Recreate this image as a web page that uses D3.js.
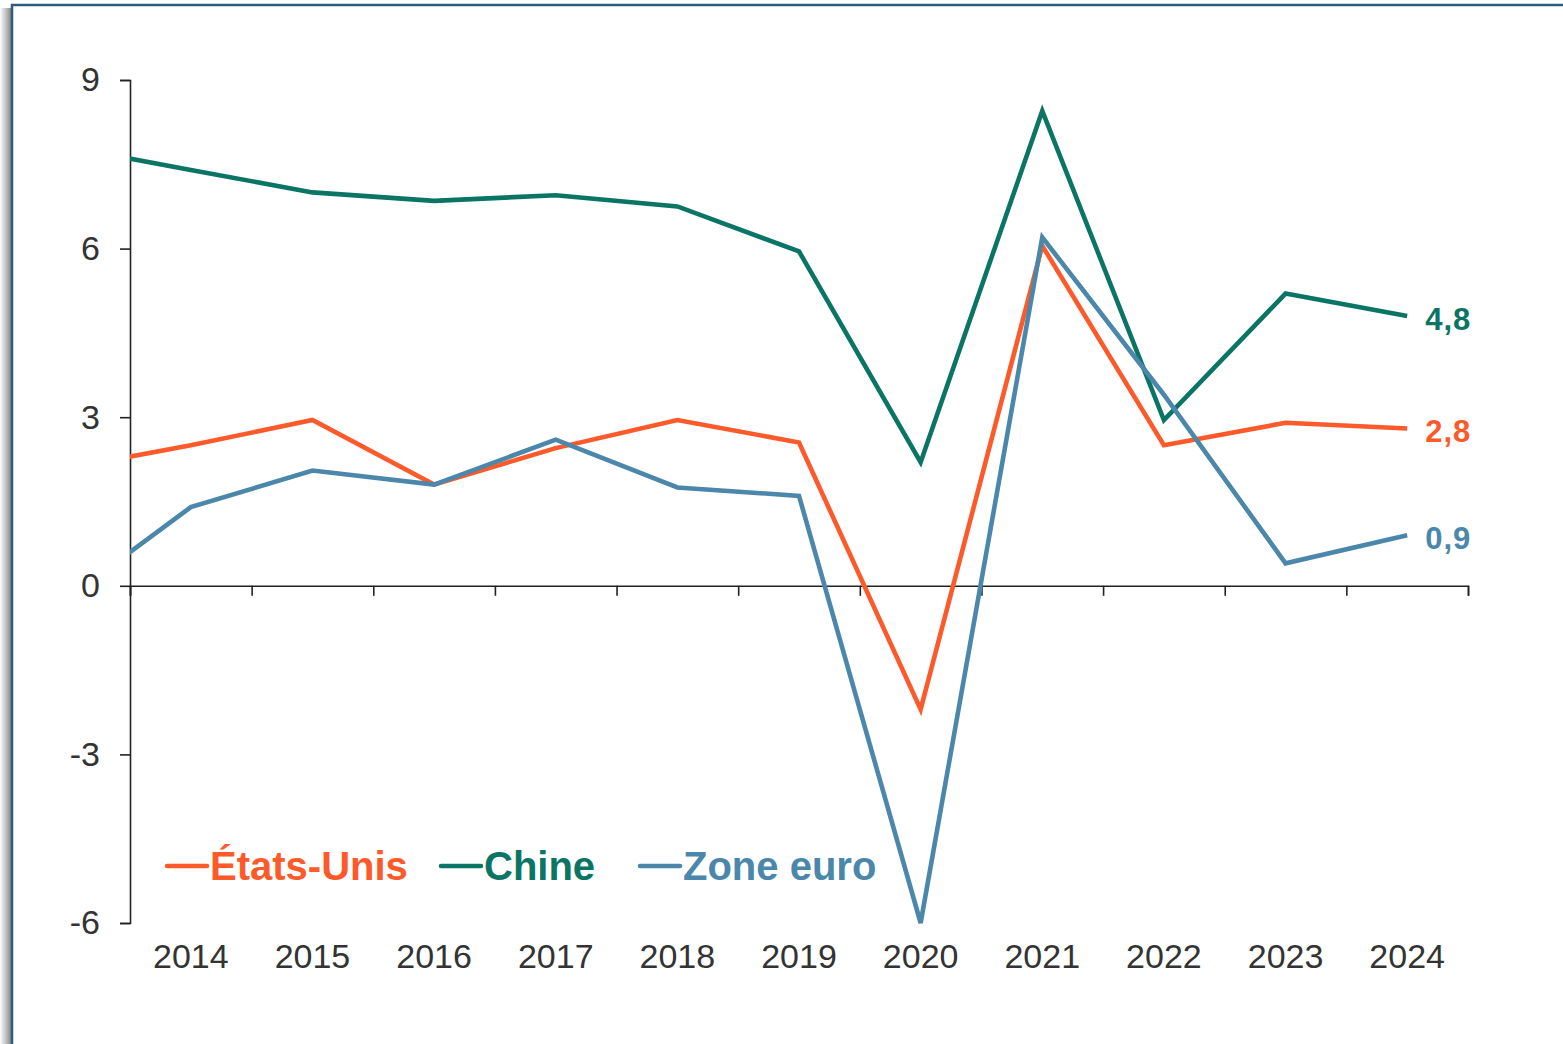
<!DOCTYPE html>
<html>
<head>
<meta charset="utf-8">
<script src="https://cdn.jsdelivr.net/npm/d3@7"></script>
<style>
  html, body { margin: 0; padding: 0; background: #fff; }
  svg { display: block; font-family: "Liberation Sans", Arial, sans-serif; }
</style>
</head>
<body>
<script>
// years (2013 is only there so the line enters the plot from the left edge, it gets clipped)
var years = [2013, 2014, 2015, 2016, 2017, 2018, 2019, 2020, 2021, 2022, 2023, 2024]
var shownYears = [2014, 2015, 2016, 2017, 2018, 2019, 2020, 2021, 2022, 2023, 2024]
var usValues   = [2.1, 2.5, 2.95, 1.8, 2.45, 2.95, 2.55, -2.2, 6.05, 2.5, 2.9, 2.8]
var chinaValues = [7.8, 7.4, 7.0, 6.85, 6.95, 6.75, 5.95, 2.2, 8.45, 2.95, 5.2, 4.8]
var euroValues = [-0.2, 1.4, 2.05, 1.8, 2.6, 1.75, 1.6, -6.0, 6.2, 3.4, 0.4, 0.9]
var yTicks = [-6, -3, 0, 3, 6, 9]
var seriesNames = ["États-Unis", "Chine", "Zone euro"]
var endLabels = ["2,8", "4,8", "0,9"]

var colours = ["#fc5a2b", "#0b7565", "#4a87ab"]

var W = 1563, H = 1044
var svg = d3.select("body").append("svg").attr("width", W).attr("height", H)

// frame + shadow on the left
var defs = svg.append("defs")
var grad = defs.append("linearGradient").attr("id", "shadow").attr("x1", 0).attr("x2", 1)
grad.append("stop").attr("offset", "0%").attr("stop-color", "#fff")
grad.append("stop").attr("offset", "100%").attr("stop-color", "#8a8a8a")
svg.append("rect").attr("x", 0).attr("y", 8).attr("width", 11).attr("height", H).attr("fill", "url(#shadow)")
svg.append("rect").attr("x", 12).attr("y", 5).attr("width", W + 20).attr("height", H + 20)
  .attr("fill", "#fff").attr("stroke", "#2f5c7c").attr("stroke-width", 2.5)

// note: "top" is taken by window.top, so prefix everything
var plotLeft = 130, plotRight = 1468, plotTop = 80, plotBottom = 923

var x = d3.scaleLinear().domain([2013.5, 2024.5]).range([plotLeft, plotRight])
var y = d3.scaleLinear().domain([-6, 9]).range([plotBottom, plotTop])

defs.append("clipPath").attr("id", "plot")
  .append("rect").attr("x", plotLeft).attr("y", 0).attr("width", plotRight - plotLeft).attr("height", H)

// y axis (plain hyphen for negatives, like the original)
var yAxis = svg.append("g").attr("transform", "translate(" + plotLeft + ",0)")
  .call(d3.axisLeft(y).tickValues(yTicks).tickSize(10).tickPadding(20).tickFormat(function(d) { return String(d) }))
yAxis.select(".domain").attr("stroke", "#222").attr("stroke-width", 1.6)
yAxis.selectAll(".tick line").attr("stroke", "#222").attr("stroke-width", 1.6)
yAxis.selectAll("text").attr("font-size", 34).attr("fill", "#333").attr("font-family", "Liberation Sans, Arial")

// x axis at zero, ticks on the band boundaries
var boundaries = d3.range(2013.5, 2025, 1)
var xAxis = svg.append("g").attr("transform", "translate(0," + y(0) + ")")
  .call(d3.axisBottom(x).tickValues(boundaries).tickSize(10).tickFormat(""))
xAxis.select(".domain").attr("stroke", "#222").attr("stroke-width", 1.6)
xAxis.selectAll(".tick line").attr("stroke", "#222").attr("stroke-width", 1.6)

// year labels under the plot
svg.append("g").selectAll("text").data(shownYears).enter().append("text")
  .attr("x", function(d) { return x(d) })
  .attr("y", plotBottom + 45)
  .attr("text-anchor", "middle")
  .attr("font-size", 34)
  .attr("fill", "#333")
  .text(function(d) { return d })

// lines
var allSeries = [usValues, chinaValues, euroValues]
var line = d3.line()
  .x(function(d, i) { return x(years[i]) })
  .y(function(d) { return y(d) })

var order = [1, 0, 2] // draw china first, then us, then euro on top
var lines = svg.append("g").attr("clip-path", "url(#plot)")
order.forEach(function(k) {
  lines.append("path")
    .datum(allSeries[k])
    .attr("d", line)
    .attr("fill", "none")
    .attr("stroke", colours[k])
    .attr("stroke-width", 4.6)
})

// end-of-line value labels
allSeries.forEach(function(s, k) {
  svg.append("text")
    .attr("x", x(2024) + 18)
    .attr("y", y(s[s.length - 1]) + 2)
    .attr("dy", "0.38em")
    .attr("font-size", 31)
    .attr("font-weight", "bold")
    .attr("letter-spacing", 1)
    .attr("fill", colours[k])
    .text(endLabels[k])
})

// legend
var legendX = [167, 441, 640]
var legendY = 866
seriesNames.forEach(function(name, k) {
  svg.append("line")
    .attr("x1", legendX[k]).attr("x2", legendX[k] + 40)
    .attr("y1", legendY).attr("y2", legendY)
    .attr("stroke", colours[k]).attr("stroke-width", 4.5).attr("stroke-linecap", "round")
  svg.append("text")
    .attr("x", legendX[k] + 43)
    .attr("y", legendY + 14)
    .attr("font-size", 40)
    .attr("font-weight", "bold")
    .attr("fill", colours[k])
    .text(name)
})
</script>
</body>
</html>
